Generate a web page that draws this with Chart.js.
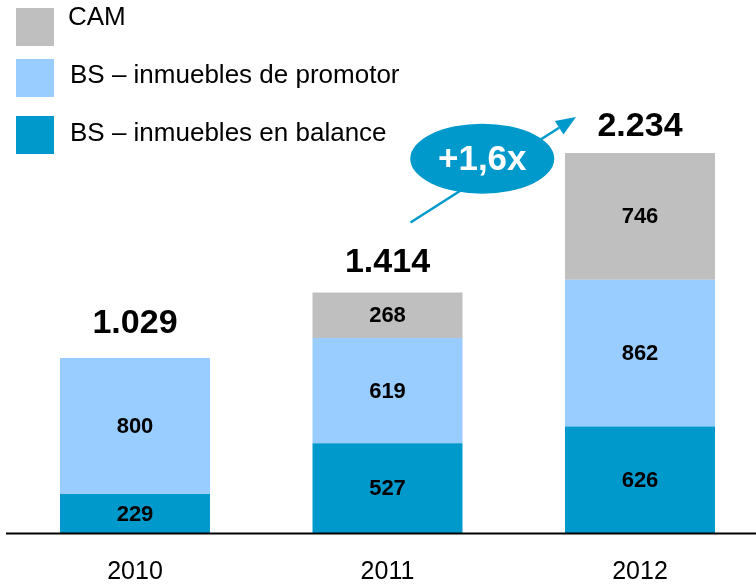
<!DOCTYPE html>
<html>
<head>
<meta charset="utf-8">
<script src="https://cdn.jsdelivr.net/npm/chart.js@4/dist/chart.umd.min.js"></script>
<style>
html,body{margin:0;padding:0;background:#fff;overflow:hidden;}
#wrap{width:756px;height:585px;overflow:hidden;position:relative;}
canvas{display:block;}
</style>
</head>
<body>
<div id="wrap"><canvas id="c" width="770" height="585"></canvas></div>
<script>
// ---- data ----
const categories = ['2010', '2011', '2012'];
const balance = [229, 527, 626];     // BS – inmuebles en balance
const promotor = [800, 619, 862];    // BS – inmuebles de promotor
const cam = [0, 268, 746];           // CAM
const totals = [1029, 1414, 2234];
const totalLabels = ['1.029', '1.414', '2.234'];
const growthLabel = '+1,6x';
const seriesNames = ['BS – inmuebles en balance', 'BS – inmuebles de promotor', 'CAM'];

const FONT = '"Liberation Sans", Arial, Helvetica, sans-serif';
const C_BAL = '#0099CC', C_PRO = '#99CCFF', C_CAM = '#BFBFBF';
const TOTAL_GAP = [34, 30, 26];

const overlay = {
  id: 'overlay',
  afterDatasetsDraw(chart) {
    const ctx = chart.ctx;
    const xs = chart.scales.x, ys = chart.scales.y;
    const area = chart.chartArea;
    ctx.save();
    // segment values
    ctx.fillStyle = '#000';
    ctx.font = 'bold 22px ' + FONT;
    ctx.textAlign = 'center';
    ctx.textBaseline = 'middle';
    chart.data.datasets.forEach((ds, di) => {
      const meta = chart.getDatasetMeta(di);
      meta.data.forEach((bar, i) => {
        const v = ds.data[i];
        if (!v) return;
        const mid = (bar.y + bar.base) / 2;
        ctx.fillText(String(v), bar.x, mid + 1);
      });
    });
    // totals
    ctx.font = 'bold 34px ' + FONT;
    totals.forEach((t, i) => {
      ctx.fillText(totalLabels[i], xs.getPixelForValue(i), ys.getPixelForValue(t) - TOTAL_GAP[i]);
    });
    // axis line
    ctx.strokeStyle = '#000';
    ctx.lineWidth = 2;
    ctx.beginPath();
    ctx.moveTo(6, area.bottom + 0.5);
    ctx.lineTo(760, area.bottom + 0.5);
    ctx.stroke();
    // year labels
    ctx.font = '25px ' + FONT;
    categories.forEach((c, i) => {
      ctx.fillText(c, xs.getPixelForValue(i), area.bottom + 39);
    });
    // legend (top to bottom: CAM, promotor, balance)
    const legendItems = [[2, 8, 18], [1, 59, 76], [0, 116, 134]];
    ctx.textAlign = 'left';
    ctx.font = '26px ' + FONT;
    legendItems.forEach(([di, sy, ty]) => {
      const ds = chart.data.datasets[di];
      ctx.fillStyle = ds.backgroundColor;
      ctx.fillRect(16, sy, 38, 38);
      ctx.fillStyle = '#000';
      ctx.fillText(ds.label, di === 2 ? 68 : 70, ty);
    });
    // growth arrow
    const x1 = xs.getPixelForValue(1) + 23, y1 = ys.getPixelForValue(totals[1]) - 70;
    const x2 = xs.getPixelForValue(2) - 64, y2 = ys.getPixelForValue(totals[2]) - 36;
    const ang = Math.atan2(y2 - y1, x2 - x1);
    const hl = 20, hw = 8;
    const bx = x2 - hl * Math.cos(ang), by = y2 - hl * Math.sin(ang);
    ctx.strokeStyle = C_BAL;
    ctx.lineWidth = 2.5;
    ctx.beginPath();
    ctx.moveTo(x1, y1);
    ctx.lineTo(bx, by);
    ctx.stroke();
    ctx.fillStyle = C_BAL;
    ctx.beginPath();
    ctx.moveTo(x2, y2);
    ctx.lineTo(bx + hw * Math.sin(ang), by - hw * Math.cos(ang));
    ctx.lineTo(bx - hw * Math.sin(ang), by + hw * Math.cos(ang));
    ctx.closePath();
    ctx.fill();
    // ellipse
    const ex = (x1 + x2) / 2 - 11, ey = (y1 + y2) / 2 - 11;
    ctx.beginPath();
    ctx.ellipse(ex, ey, 72, 35, 0, 0, Math.PI * 2);
    ctx.fill();
    ctx.fillStyle = '#fff';
    ctx.textAlign = 'center';
    ctx.font = 'bold 35px ' + FONT;
    ctx.fillText(growthLabel, ex, ey + 2);
    ctx.restore();
  }
};

new Chart(document.getElementById('c'), {
  type: 'bar',
  data: {
    labels: categories,
    datasets: [
      { label: seriesNames[0], data: balance, backgroundColor: C_BAL },
      { label: seriesNames[1], data: promotor, backgroundColor: C_PRO },
      { label: seriesNames[2], data: cam, backgroundColor: C_CAM }
    ]
  },
  options: {
    responsive: false,
    devicePixelRatio: 1,
    animation: false,
    layout: { padding: { left: 8.75, right: 3.75, top: 90.7, bottom: 52 } },
    datasets: { bar: { categoryPercentage: 1, barPercentage: 0.594, borderWidth: 0 } },
    scales: {
      x: { stacked: true, display: false },
      y: { stacked: true, display: false, min: 0, max: 2600 }
    },
    plugins: { legend: { display: false }, tooltip: { enabled: false } }
  },
  plugins: [overlay]
});
</script>
</body>
</html>
